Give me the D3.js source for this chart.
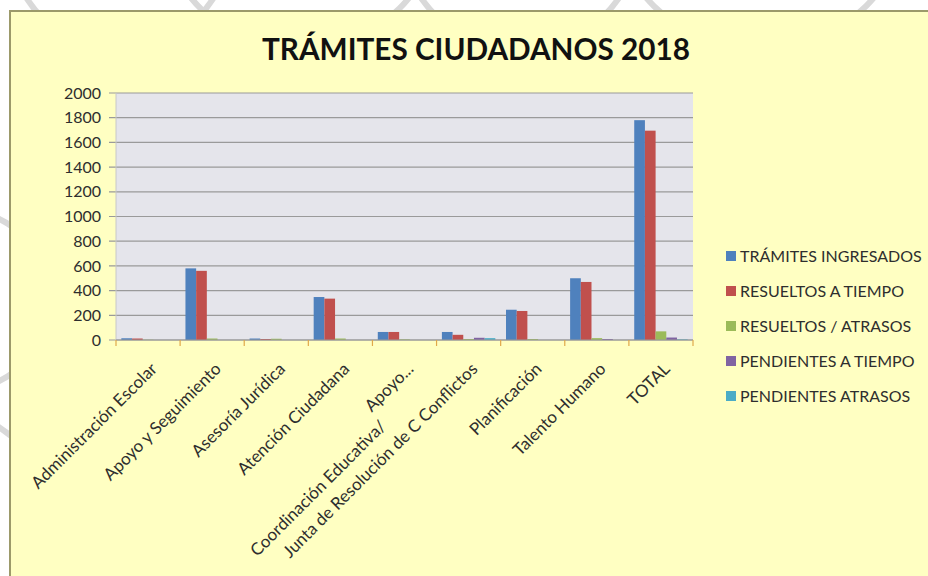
<!DOCTYPE html>
<html><head><meta charset="utf-8">
<script src="https://cdn.jsdelivr.net/npm/d3@7"></script>
<style>html,body{margin:0;padding:0;background:#fff;}svg{display:block;}</style>
</head><body>
<svg id="c" width="928" height="576"></svg>
<script>
const categories = [
  ["Administración Escolar"],
  ["Apoyo y Seguimiento"],
  ["Asesoría Jurídica"],
  ["Atención Ciudadana"],
  ["Apoyo...", "Coordinación Educativa/"],
  ["Junta de Resolución de C Conflictos"],
  ["Planificación"],
  ["Talento Humano"],
  ["TOTAL"]
];
const seriesNames = ["TRÁMITES INGRESADOS","RESUELTOS A TIEMPO","RESUELTOS / ATRASOS","PENDIENTES A TIEMPO","PENDIENTES ATRASOS"];
const tramitesIngresados = [14, 580, 12, 348, 65, 65, 245, 500, 1780];
const resueltosATiempo   = [12, 560, 8, 335, 65, 42, 235, 470, 1695];
const resueltosAtrasos   = [2, 12, 10, 12, 5, 8, 8, 15, 70];
const pendientesATiempo  = [0, 0, 0, 0, 0, 18, 0, 8, 20];
const pendientesAtrasos  = [0, 0, 0, 0, 0, 15, 0, 0, 5];
const yTicks = [0,200,400,600,800,1000,1200,1400,1600,1800,2000];
const colors = ["#4F81BD","#C0504D","#9BBB59","#8064A2","#4BACC6"];
const title = "TRÁMITES CIUDADANOS 2018";

const allSeries = [tramitesIngresados, resueltosATiempo, resueltosAtrasos, pendientesATiempo, pendientesAtrasos];
const svg = d3.select("#c");
const font = "Lato, 'Open Sans', sans-serif";

// faint watermark swirls behind the chart
const wm = svg.append("g").attr("fill","none").attr("stroke","#d9d9d9").attr("stroke-width",6);
[[120,-60,110],[300,-90,140],[520,-70,120],[760,-100,150],[-40,300,90],[-60,520,110]].forEach(c=>{
  wm.append("circle").attr("cx",c[0]).attr("cy",c[1]).attr("r",c[2]);
});

// chart background
svg.append("rect").attr("x",10).attr("y",11).attr("width",940).attr("height",580)
  .attr("fill","#FFFFC2").attr("stroke","#9C9A6A").attr("stroke-width",2);

const L=116, R=693, T=93, B=340;
const x0 = d3.scaleBand().domain(d3.range(categories.length)).range([L,R]).padding(0);
const x1 = d3.scaleBand().domain(d3.range(seriesNames.length)).range([0,x0.bandwidth()]).paddingInner(0).paddingOuter(0.5);
const y = d3.scaleLinear().domain([0,2000]).range([B,T]);

svg.append("rect").attr("x",L).attr("y",T).attr("width",R-L).attr("height",B-T).attr("fill","#E5E5EB");

// gridlines
svg.append("g").selectAll("line").data(yTicks).join("line")
  .attr("x1",L-7).attr("x2",R).attr("y1",d=>y(d)).attr("y2",d=>y(d))
  .attr("stroke","#9a9a9a").attr("stroke-width",1.2);
svg.append("line").attr("x1",L).attr("x2",L).attr("y1",T).attr("y2",B).attr("stroke","#c8c8c8");

// y labels
svg.append("g").selectAll("text").data(yTicks).join("text")
  .attr("x",101).attr("y",d=>y(d)).attr("dy","0.35em").attr("text-anchor","end")
  .attr("font-family",font).attr("font-size",16).attr("fill","#2e2e2e")
  .text(d=>d);

// bars
const g = svg.append("g");
categories.forEach((c,i)=>{
  allSeries.forEach((s,j)=>{
    const v = s[i];
    g.append("rect").attr("x",x0(i)+x1(j)).attr("width",x1.bandwidth())
      .attr("y",y(v)).attr("height",B-y(v)).attr("fill",colors[j]);
  });
});

// x axis
svg.append("line").attr("x1",L).attr("x2",R).attr("y1",B).attr("y2",B).attr("stroke","#9a9a9a").attr("stroke-width",1.2);
const tickPos = d3.range(categories.length+1).map(i=> i<categories.length ? x0(i) : R);
svg.append("g").selectAll("line").data(tickPos).join("line")
  .attr("x1",d=>d).attr("x2",d=>d).attr("y1",B).attr("y2",B+6)
  .attr("stroke","#E0A84A").attr("stroke-width",1.2);

// x labels
categories.forEach((lines,i)=>{
  const cx = x0(i)+x0.bandwidth()/2 + 10;
  const t = svg.append("text").attr("transform",`translate(${cx},${B+30}) rotate(-45)`)
    .attr("text-anchor","end").attr("font-family",font).attr("font-size",17).attr("fill","#2e2e2e");
  lines.forEach((ln,k)=>{
    t.append("tspan").attr("x",k===0?0:-60).attr("dy",k===0?0:"1.25em").text(ln);
  });
});

// legend
const lg = svg.append("g");
seriesNames.forEach((n,j)=>{
  const ly = 256 + j*35;
  lg.append("rect").attr("x",726).attr("y",ly-5).attr("width",10).attr("height",10).attr("fill",colors[j]);
  lg.append("text").attr("x",740).attr("y",ly).attr("dy","0.35em")
    .attr("font-family",font).attr("font-size",16).attr("fill","#2e2e2e").text(n);
});

// title
svg.append("text").attr("x",476).attr("y",60).attr("text-anchor","middle")
  .attr("font-family",font).attr("font-weight","bold").attr("font-size",31).attr("fill","#111")
  .attr("textLength",428).attr("lengthAdjust","spacingAndGlyphs").text(title);
</script>
</body></html>
